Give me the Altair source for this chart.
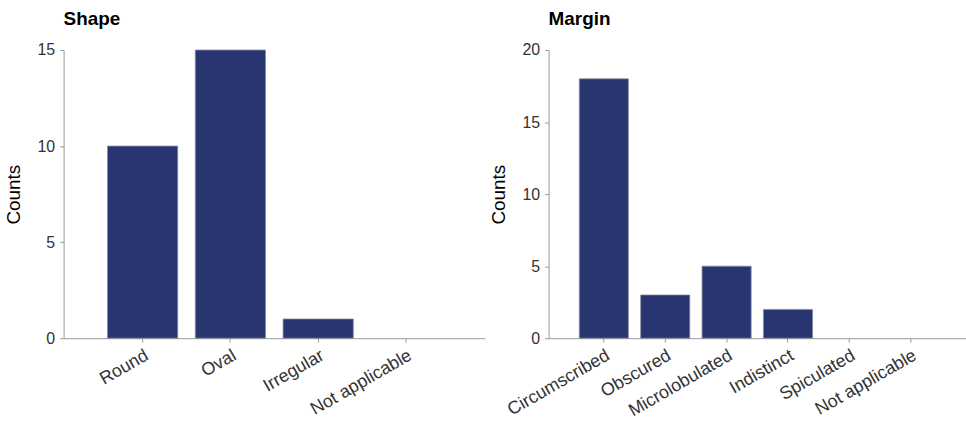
import altair as alt
import pandas as pd

# Lesion shape counts
shape_categories = ["Round", "Oval", "Irregular", "Not applicable"]
shape_counts = [10, 15, 1, 0]

# Lesion margin counts
margin_categories = ["Circumscribed", "Obscured", "Microlobulated", "Indistinct",
                     "Spiculated", "Not applicable"]
margin_counts = [18, 3, 5, 2, 0, 0]

BAR_COLOR = "#293571"
FONT = "Liberation Sans"


def bar_panel(categories, counts, title, y_max, y_ticks, width):
    df = pd.DataFrame({"category": categories, "count": counts})
    return (
        alt.Chart(df, title=alt.TitleParams(
            title, anchor="start", frame="group", font=FONT, fontSize=19,
            fontWeight="bold", color="black", offset=13))
        .mark_bar(color=BAR_COLOR, stroke="#8a8c9c", strokeWidth=0.8)
        .encode(
            x=alt.X("category:N", sort=categories, title=None,
                    scale=alt.Scale(paddingInner=0.2, paddingOuter=0.5),
                    axis=alt.Axis(labelAngle=-30, labelFontSize=18,
                                  labelColor="#333333", labelFont=FONT,
                                  labelPadding=4, tickSize=4)),
            y=alt.Y("count:Q", title="Counts",
                    scale=alt.Scale(domain=[0, y_max], nice=False),
                    axis=alt.Axis(values=y_ticks, labelFontSize=16,
                                  labelColor="#333333", labelFont=FONT,
                                  titleFont=FONT, titleFontSize=19,
                                  titleFontWeight="normal", titleColor="black",
                                  titlePadding=14, labelPadding=5, tickSize=4,
                                  grid=False)),
            # empty categories get no outline
            strokeOpacity=alt.condition("datum.count > 0", alt.value(1),
                                        alt.value(0)),
        )
        .properties(width=width, height=290)
    )


shape_chart = bar_panel(shape_categories, shape_counts, "Shape", 15,
                        [0, 5, 10, 15], 424)
margin_chart = bar_panel(margin_categories, margin_counts, "Margin", 20,
                         [0, 5, 10, 15, 20], 420)

chart = (
    alt.hconcat(shape_chart, margin_chart, spacing=4)
    .properties(padding={"left": 4, "top": 9, "right": 0, "bottom": 0})
    .configure_view(stroke=None)
    .configure_axis(domainColor="#999999", tickColor="#999999", domainWidth=1)
)

chart.save("out.html", embed_options={"renderer": "svg", "actions": False})
